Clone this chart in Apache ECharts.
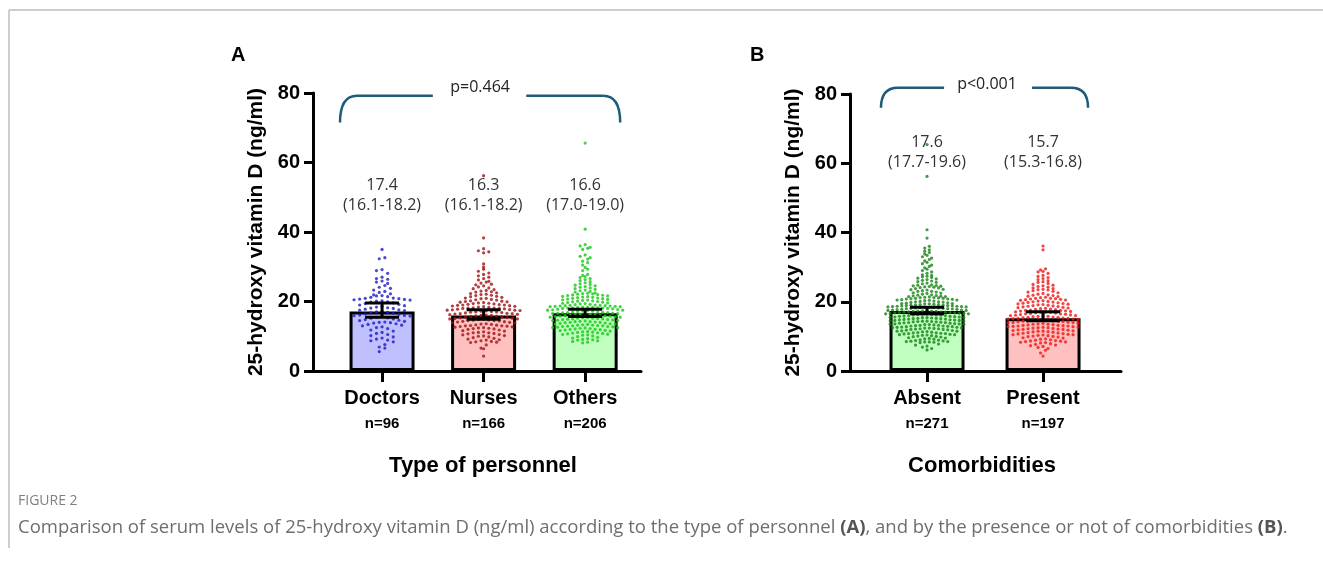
<!DOCTYPE html>
<html>
<head>
<meta charset="utf-8">
<script src="https://cdn.jsdelivr.net/npm/echarts@6/dist/echarts.min.js"></script>
<style>
  html, body { margin: 0; padding: 0; background: #fff; }
  #chart { width: 1323px; height: 563px; }
</style>
</head>
<body>
<div id="chart"></div>
<script>
// ---- data ----
const categoriesA = ['Doctors', 'Nurses', 'Others'];
const countsA = ['n=96', 'n=166', 'n=206'];
const meansA = [17.1, 16.0, 16.6];
const ciLowA = [15.5, 14.9, 15.7];
const ciHighA = [19.6, 17.6, 17.8];
const medianTextA = ['17.4', '16.3', '16.6'];
const rangeTextA = ['(16.1-18.2)', '(16.1-18.2)', '(17.0-19.0)'];
const pTextA = 'p=0.464';

const categoriesB = ['Absent', 'Present'];
const countsB = ['n=271', 'n=197'];
const meansB = [17.3, 15.2];
const ciLowB = [16.5, 14.5];
const ciHighB = [18.4, 17.1];
const medianTextB = ['17.6', '15.7'];
const rangeTextB = ['(17.7-19.6)', '(15.3-16.8)'];
const pTextB = 'p<0.001';

const doctors = [35.0, 32.6, 32.3, 29.2, 28.9, 28.1, 27.0, 26.6, 26.4, 25.9, 25.6, 25.2,
  24.6, 24.1, 23.8, 23.3, 22.9, 22.6, 22.2,
  21.9, 21.7, 21.6, 21.4, 21.2, 21.0, 20.9, 20.8, 20.7, 20.6, 20.5, 20.4, 20.2, 20.1,
  19.9, 19.8, 19.6, 19.4, 19.2, 19.0, 18.8, 18.6, 18.4, 18.2, 18.1, 18.0,
  17.8, 17.6, 17.5, 17.4, 17.2, 17.0, 16.9, 16.7, 16.6, 16.4, 16.3, 16.1, 16.0,
  15.9, 15.8, 15.7, 15.5, 15.3, 15.2, 15.0, 14.8, 14.6, 14.5, 14.3, 14.1, 14.0,
  13.9, 13.8, 13.6, 13.4, 13.2, 13.0, 12.7, 12.5, 12.2,
  11.8, 11.5, 11.1, 10.8, 10.5, 10.2,
  9.8, 9.5, 9.2, 8.9, 8.7, 8.4,
  7.6, 6.9, 6.6, 5.6];

const nurses = [56.2, 38.3, 35.2, 34.6, 34.3, 34.0, 30.8, 29.9, 29.3,
  28.7, 28.2, 27.8, 27.4, 27.0, 26.6, 26.2,
  25.8, 25.6, 25.3, 25.0, 24.8, 24.5, 24.2, 23.9, 23.7, 23.4, 23.2, 23.0,
  22.8, 22.7, 22.5, 22.3, 22.1, 22.0, 21.8, 21.7, 21.5, 21.4, 21.2, 21.0, 20.9, 20.8, 20.6, 20.5, 20.4, 20.2, 20.1, 20.0,
  19.9, 19.8, 19.7, 19.6, 19.5, 19.4, 19.3, 19.2, 19.1, 19.0, 18.9, 18.8, 18.7, 18.6, 18.5, 18.4, 18.3, 18.2, 18.1, 18.0, 18.0, 18.1,
  17.9, 17.8, 17.7, 17.6, 17.5, 17.4, 17.3, 17.2, 17.1, 17.0, 16.9, 16.8, 16.7, 16.6, 16.5, 16.4, 16.3, 16.2, 16.1, 16.0, 16.0, 16.5, 17.0, 17.5,
  15.9, 15.8, 15.7, 15.6, 15.5, 15.4, 15.3, 15.2, 15.1, 15.0, 14.9, 14.8, 14.7, 14.6, 14.5, 14.4, 14.3, 14.2, 14.1, 14.0, 14.5, 15.0,
  13.9, 13.8, 13.6, 13.5, 13.4, 13.3, 13.2, 13.1, 13.0, 12.9, 12.8, 12.7, 12.6, 12.5, 12.4, 12.3, 12.2, 12.1, 12.0, 13.0,
  11.8, 11.6, 11.5, 11.3, 11.1, 11.0, 10.8, 10.7, 10.5, 10.4, 10.2, 10.1, 10.0, 11.0,
  9.8, 9.6, 9.4, 9.2, 9.0, 8.9, 8.7, 8.5, 8.4, 8.3, 8.2,
  7.5, 6.6, 6.4, 4.3, 19.0];

const others = [65.6, 40.8, 36.4, 36.0, 35.6, 35.3, 35.0,
  33.4, 33.0, 32.6, 32.2, 31.6, 31.2, 30.5, 29.8, 29.3, 28.9,
  27.8, 27.5, 27.2, 26.9, 26.6, 26.3, 26.0, 25.7, 25.4, 25.1,
  24.9, 24.7, 24.5, 24.3, 24.1, 23.9, 23.7, 23.5, 23.3, 23.1, 22.9, 22.7, 22.5, 22.4, 22.3, 22.2, 22.1, 22.0,
  21.9, 21.8, 21.7, 21.6, 21.5, 21.4, 21.3, 21.2, 21.1, 21.0, 20.9, 20.8, 20.7, 20.6, 20.5, 20.4, 20.3, 20.2, 20.1, 20.0,
  19.9, 19.8, 19.7, 19.6, 19.5, 19.4, 19.3, 19.2, 19.1, 19.0, 18.9, 18.8, 18.7, 18.6, 18.5, 18.4, 18.3, 18.2, 18.1, 18.0,
  18.5, 18.6, 18.7, 18.8, 18.9, 18.4, 18.3, 18.2, 18.1, 18.0,
  17.9, 17.8, 17.7, 17.6, 17.5, 17.4, 17.3, 17.2, 17.1, 17.0, 16.9, 16.8, 16.7, 16.6, 16.5, 16.4, 16.3, 16.2, 16.1, 16.0,
  17.5, 17.0, 16.5, 16.0, 16.2, 16.4, 16.6, 16.8,
  15.9, 15.8, 15.7, 15.6, 15.5, 15.4, 15.3, 15.2, 15.1, 15.0, 14.9, 14.8, 14.7, 14.6, 14.5, 14.4, 14.3, 14.2, 14.1, 14.0,
  15.5, 15.0, 14.5, 14.0, 15.2, 14.8, 14.2, 15.8,
  13.9, 13.8, 13.7, 13.6, 13.5, 13.4, 13.3, 13.2, 13.1, 13.0, 12.9, 12.8, 12.7, 12.6, 12.5, 12.4, 12.3, 12.2, 12.1, 12.0,
  13.5, 13.0, 12.5, 12.0, 13.2, 12.8,
  11.9, 11.7, 11.5, 11.3, 11.1, 10.9, 10.7, 10.5, 10.3, 10.1, 11.8, 11.6, 11.4, 11.2, 11.0, 10.8, 10.6, 10.4,
  9.9, 9.7, 9.5, 9.3, 9.1, 8.9, 8.7, 8.5, 8.3, 8.1, 9.0];

const absent = [65.4, 56.2, 40.8, 38.4,
  36.0, 35.5, 35.0, 34.6, 34.2, 33.8, 33.4, 33.0, 32.6, 32.2,
  31.8, 31.4, 31.0, 30.6, 30.2, 29.8, 29.4, 29.0, 28.6, 28.2,
  27.8, 27.6, 27.4, 27.2, 27.0, 26.8, 26.6, 26.4, 26.2, 26.0, 25.8, 25.6, 25.4, 25.2,
  24.9, 24.8, 24.7, 24.6, 24.5, 24.4, 24.3, 24.2, 24.1, 24.0, 23.8, 23.6, 23.4, 23.2, 23.0, 22.8, 22.6, 22.4, 22.2, 22.0, 23.5, 23.0, 22.5,
  21.9, 21.8, 21.7, 21.6, 21.5, 21.4, 21.3, 21.2, 21.1, 21.0, 20.9, 20.8, 20.7, 20.6, 20.5, 20.4, 20.3, 20.2, 20.1, 20.0, 21.5, 21.0, 20.5, 20.0, 21.2, 20.8,
  19.9, 19.8, 19.7, 19.6, 19.5, 19.4, 19.3, 19.2, 19.1, 19.0, 18.9, 18.8, 18.7, 18.6, 18.5, 18.4, 18.3, 18.2, 18.1, 18.0,
  19.5, 19.0, 18.5, 18.0, 19.2, 18.8, 18.4, 18.2, 18.6, 18.3, 18.7, 18.9, 19.4, 18.1,
  17.9, 17.8, 17.7, 17.6, 17.5, 17.4, 17.3, 17.2, 17.1, 17.0, 16.9, 16.8, 16.7, 16.6, 16.5, 16.4, 16.3, 16.2, 16.1, 16.0,
  17.5, 17.0, 16.5, 16.0, 17.2, 16.8, 16.4, 16.2, 17.8, 17.6, 17.4, 16.6, 16.3, 17.1, 16.9, 17.3,
  15.9, 15.8, 15.7, 15.6, 15.5, 15.4, 15.3, 15.2, 15.1, 15.0, 14.9, 14.8, 14.7, 14.6, 14.5, 14.4, 14.3, 14.2, 14.1, 14.0,
  15.5, 15.0, 14.5, 14.0, 15.2, 14.8, 14.4, 14.2, 15.8, 15.6, 15.4, 14.6, 14.3, 15.1,
  13.9, 13.8, 13.7, 13.6, 13.5, 13.4, 13.3, 13.2, 13.1, 13.0, 12.9, 12.8, 12.7, 12.6, 12.5, 12.4, 12.3, 12.2, 12.1, 12.0,
  13.5, 13.0, 12.5, 12.0, 13.2, 12.8, 12.4, 12.2, 13.8, 13.6, 13.4, 12.6,
  11.9, 11.8, 11.7, 11.6, 11.5, 11.4, 11.3, 11.2, 11.1, 11.0, 10.9, 10.8, 10.7, 10.6, 10.5, 10.4, 10.3, 10.2, 10.1, 10.0, 11.5, 11.0, 10.5, 10.8,
  9.9, 9.8, 9.6, 9.5, 9.3, 9.2, 9.0, 8.9, 8.8, 8.7, 8.6, 8.5, 8.5, 8.4, 8.4, 8.3, 8.2, 9.4,
  7.8, 7.5, 7.2, 6.9, 6.5, 6.1];

const present = [36.1, 35.0, 29.5, 29.2, 28.8, 28.6, 28.2,
  27.6, 27.3, 27.0, 26.7, 26.4, 26.1, 25.8, 25.6, 25.3, 25.0,
  24.8, 24.6, 24.4, 24.2, 24.0, 23.8, 23.6, 23.4, 23.2, 23.0, 22.8, 22.6, 22.4, 22.2, 22.0, 23.5,
  21.9, 21.8, 21.6, 21.5, 21.3, 21.2, 21.0, 20.9, 20.8, 20.7, 20.6, 20.5, 20.4, 20.3, 20.2, 20.1, 20.0, 21.0,
  19.9, 19.8, 19.7, 19.6, 19.5, 19.4, 19.3, 19.2, 19.1, 19.0, 18.9, 18.8, 18.7, 18.6, 18.5, 18.4, 18.3, 18.2, 18.1, 18.0,
  17.9, 17.8, 17.7, 17.6, 17.5, 17.4, 17.3, 17.2, 17.1, 17.0, 16.9, 16.8, 16.7, 16.6, 16.5, 16.4, 16.3, 16.2, 16.1, 16.0, 17.5, 17.0, 16.5, 16.0,
  15.9, 15.8, 15.7, 15.6, 15.5, 15.4, 15.3, 15.2, 15.1, 15.0, 14.9, 14.8, 14.7, 14.6, 14.5, 14.4, 14.3, 14.2, 14.1, 14.0, 15.5, 15.0, 14.5, 14.0, 15.2, 14.8, 14.4, 15.8,
  13.9, 13.8, 13.7, 13.6, 13.5, 13.4, 13.3, 13.2, 13.1, 13.0, 12.9, 12.8, 12.7, 12.6, 12.5, 12.4, 12.3, 12.2, 12.1, 12.0, 13.5, 13.0, 12.5, 12.0, 13.2, 12.8,
  11.9, 11.8, 11.7, 11.6, 11.5, 11.4, 11.3, 11.2, 11.1, 11.0, 10.9, 10.8, 10.7, 10.6, 10.5, 10.4, 10.3, 10.2, 10.1, 10.0, 11.5, 10.5,
  9.9, 9.8, 9.6, 9.5, 9.3, 9.2, 9.0, 8.9, 8.8, 8.7, 8.6, 8.5, 8.4, 8.3, 8.2, 8.1,
  7.9, 7.7, 7.5, 7.3, 7.1, 6.8, 6.5, 6.0, 5.2, 4.3];

// ---- styling ----
const fillsA = ['#c0c0ff', '#ffc0c0', '#c0ffc0'];
const dotsA = ['#1a1ac8', '#a01010', '#14c814'];
const fillsB = ['#c0ffc0', '#ffc0c0'];
const dotsB = ['#148214', '#f01414'];
const bracketColor = '#1f5a78';
const FONT = '"Liberation Sans", Arial, sans-serif';
const NOTE_FONT = '"Open Sans", "Noto Sans", sans-serif';
const pxPerUnitA = 101.5;
const pxPerUnitB = 116;

// GraphPad-like swarm: group values into rows, fill each row from the centre outwards
function swarm(values, center, rowH, step) {
  const rows = {};
  values.forEach(v => {
    const r = Math.round(v / rowH);
    (rows[r] = rows[r] || []).push(v);
  });
  const pts = [];
  Object.keys(rows).forEach(k => {
    const list = rows[k].slice().sort((a, b) => b - a);
    const n = list.length;
    list.forEach((v, j) => {
      // slot order: centre, right, left, right, left ...
      const side = j % 2 === 0 ? 1 : -1;
      const slot = n % 2 === 1 ? side * Math.ceil(j / 2) : side * (Math.floor(j / 2) + 0.5);
      pts.push([center + slot * step, v]);
    });
  });
  return pts;
}

function errorBars(params, api) {
  const x = api.value(0);
  const top = api.coord([x, api.value(2)]);
  const bot = api.coord([x, api.value(1)]);
  const half = 17;
  const st = { stroke: '#000', lineWidth: 3 };
  return {
    type: 'group',
    children: [
      { type: 'line', shape: { x1: top[0], y1: top[1], x2: bot[0], y2: bot[1] }, style: st },
      { type: 'line', shape: { x1: top[0] - half, y1: top[1], x2: top[0] + half, y2: top[1] }, style: st },
      { type: 'line', shape: { x1: bot[0] - half, y1: bot[1], x2: bot[0] + half, y2: bot[1] }, style: st }
    ]
  };
}

function notes(mains, ranges) {
  return function (params, api) {
    const p = api.coord([api.value(0), api.value(1)]);
    const i = params.dataIndex;
    return {
      type: 'text', x: p[0], y: p[1],
      style: {
        text: mains[i] + '\n' + ranges[i], fill: '#333', fontSize: 16, lineHeight: 20,
        fontFamily: NOTE_FONT, align: 'center', verticalAlign: 'middle'
      }
    };
  };
}

function bracket(label) {
  return function (params, api) {
    const L = api.coord([api.value(0), api.value(3)]);
    const LT = api.coord([api.value(0), api.value(2)]);
    const RT = api.coord([api.value(1), api.value(2)]);
    const R = api.coord([api.value(1), api.value(3)]);
    const G0 = api.coord([api.value(4), api.value(2)]);
    const G1 = api.coord([api.value(5), api.value(2)]);
    const T = api.coord([api.value(6), api.value(7)]);
    const r = 17;
    const st = { stroke: bracketColor, lineWidth: 2.5, fill: null };
    return {
      type: 'group',
      children: [
        { type: 'bezierCurve', shape: { x1: L[0], y1: L[1], cpx1: LT[0], cpy1: LT[1], x2: LT[0] + r, y2: LT[1] }, style: st },
        { type: 'line', shape: { x1: LT[0] + r, y1: LT[1], x2: G0[0], y2: G0[1] }, style: st },
        { type: 'line', shape: { x1: G1[0], y1: G1[1], x2: RT[0] - r, y2: RT[1] }, style: st },
        { type: 'bezierCurve', shape: { x1: RT[0] - r, y1: RT[1], cpx1: RT[0], cpy1: RT[1], x2: R[0], y2: R[1] }, style: st },
        { type: 'text', x: T[0], y: T[1], style: { text: label, fill: '#222', fontSize: 16, fontFamily: NOTE_FONT, align: 'center', verticalAlign: 'middle' } }
      ]
    };
  };
}

function xAxisFor(gridIndex, min, max, cats, counts) {
  const idx = cats.map((c, i) => i);
  return {
    gridIndex: gridIndex, type: 'value', min: min, max: max,
    splitLine: { show: false },
    axisLine: { onZero: false, lineStyle: { color: '#000', width: 3 } },
    axisTick: { customValues: idx, length: 11, lineStyle: { color: '#000', width: 3 } },
    axisLabel: {
      customValues: idx, margin: 14,
      formatter: v => '{c|' + cats[Math.round(v)] + '}\n{n|' + counts[Math.round(v)] + '}',
      rich: {
        c: { fontFamily: FONT, fontWeight: 'bold', fontSize: 20, color: '#000', lineHeight: 27 },
        n: { fontFamily: FONT, fontWeight: 'bold', fontSize: 15, color: '#000', lineHeight: 24 }
      }
    }
  };
}

function yAxisFor(gridIndex) {
  return {
    gridIndex: gridIndex, type: 'value', min: 0, max: 80, interval: 20,
    name: '25-hydroxy vitamin D (ng/ml)', nameLocation: 'middle', nameGap: 46,
    nameTextStyle: { fontFamily: FONT, fontWeight: 'bold', fontSize: 21, color: '#000' },
    splitLine: { show: false },
    axisLine: { show: true, onZero: false, lineStyle: { color: '#000', width: 3 } },
    axisTick: { show: true, length: 9, lineStyle: { color: '#000', width: 3 } },
    axisLabel: { margin: 13, fontFamily: FONT, fontWeight: 'bold', fontSize: 20, color: '#000' }
  };
}

const chart = echarts.init(document.getElementById('chart'));

const rowSpecA = [[1.5, 5.6], [1.2, 5.2], [1.0, 5.0]];
const rowSpecB = [[1.0, 4.6], [1.1, 5.0]];

const seriesA = [
  {
    type: 'bar', xAxisIndex: 0, yAxisIndex: 0, barWidth: 65, z: 1,
    itemStyle: { borderColor: '#000', borderWidth: 3 },
    data: meansA.map((m, i) => ({ value: [i, m], itemStyle: { color: fillsA[i] } }))
  },
  ...[doctors, nurses, others].map((vals, i) => ({
    type: 'scatter', xAxisIndex: 0, yAxisIndex: 0, z: 2, symbol: 'circle', symbolSize: 3.2,
    itemStyle: { color: dotsA[i] }, data: swarm(vals, i, rowSpecA[i][0], rowSpecA[i][1] / pxPerUnitA)
  })),
  {
    type: 'custom', xAxisIndex: 0, yAxisIndex: 0, z: 3, renderItem: errorBars,
    data: meansA.map((m, i) => [i, ciLowA[i], ciHighA[i]])
  },
  {
    type: 'custom', xAxisIndex: 0, yAxisIndex: 0, z: 4, renderItem: notes(medianTextA, rangeTextA),
    data: meansA.map((m, i) => [i, 50.4])
  },
  {
    type: 'custom', xAxisIndex: 0, yAxisIndex: 0, z: 4, clip: false, renderItem: bracket(pTextA),
    data: [[-0.414, 2.345, 79.2, 71.5, 0.50, 1.42, 0.966, 81.5]]
  }
];

const seriesB = [
  {
    type: 'bar', xAxisIndex: 1, yAxisIndex: 1, barWidth: 75, z: 1,
    itemStyle: { borderColor: '#000', borderWidth: 3 },
    data: meansB.map((m, i) => ({ value: [i, m], itemStyle: { color: fillsB[i] } }))
  },
  ...[absent, present].map((vals, i) => ({
    type: 'scatter', xAxisIndex: 1, yAxisIndex: 1, z: 2, symbol: 'circle', symbolSize: 3.2,
    itemStyle: { color: dotsB[i] }, data: swarm(vals, i, rowSpecB[i][0], rowSpecB[i][1] / pxPerUnitB)
  })),
  {
    type: 'custom', xAxisIndex: 1, yAxisIndex: 1, z: 3, renderItem: errorBars,
    data: meansB.map((m, i) => [i, ciLowB[i], ciHighB[i]])
  },
  {
    type: 'custom', xAxisIndex: 1, yAxisIndex: 1, z: 4, renderItem: notes(medianTextB, rangeTextB),
    data: meansB.map((m, i) => [i, 63.0])
  },
  {
    type: 'custom', xAxisIndex: 1, yAxisIndex: 1, z: 4, clip: false, renderItem: bracket(pTextB),
    data: [[-0.397, 1.388, 81.8, 76.0, 0.147, 0.905, 0.517, 82.7]]
  }
];

chart.setOption({
  animation: false,
  backgroundColor: '#fff',
  grid: [
    { left: 313, top: 93, width: 328, height: 278 },
    { left: 850, top: 94, width: 271, height: 277 }
  ],
  xAxis: [
    xAxisFor(0, -0.68, 2.55, categoriesA, countsA),
    xAxisFor(1, -0.664, 1.672, categoriesB, countsB)
  ],
  yAxis: [yAxisFor(0), yAxisFor(1)],
  series: seriesA.concat(seriesB),
  graphic: [
    { type: 'line', shape: { x1: 9, y1: 10, x2: 1323, y2: 10 }, style: { stroke: '#bdbdbd', lineWidth: 1.5 } },
    { type: 'line', shape: { x1: 9, y1: 10, x2: 9, y2: 548 }, style: { stroke: '#bdbdbd', lineWidth: 1.5 } },
    { type: 'text', x: 231, y: 55, style: { text: 'A', fontFamily: FONT, fontWeight: 'bold', fontSize: 20, fill: '#000', verticalAlign: 'middle' } },
    { type: 'text', x: 750, y: 55, style: { text: 'B', fontFamily: FONT, fontWeight: 'bold', fontSize: 20, fill: '#000', verticalAlign: 'middle' } },
    { type: 'text', x: 483, y: 466, style: { text: 'Type of personnel', fontFamily: FONT, fontWeight: 'bold', fontSize: 22, fill: '#000', align: 'center', verticalAlign: 'middle' } },
    { type: 'text', x: 982, y: 466, style: { text: 'Comorbidities', fontFamily: FONT, fontWeight: 'bold', fontSize: 22, fill: '#000', align: 'center', verticalAlign: 'middle' } },
    { type: 'text', x: 18, y: 501, style: { text: 'FIGURE 2', fontFamily: NOTE_FONT, fontSize: 14, fill: '#808080', verticalAlign: 'middle' } },
    {
      type: 'text', x: 18, y: 528,
      style: {
        text: '{n|Comparison of serum levels of 25-hydroxy vitamin D (ng/ml) according to the type of personnel }{b|(A)}{n|, and by the presence or not of comorbidities }{b|(B)}{n|.}',
        verticalAlign: 'middle',
        rich: {
          n: { fontFamily: NOTE_FONT, fontSize: 18.5, fill: '#6e6e6e' },
          b: { fontFamily: NOTE_FONT, fontSize: 18.5, fontWeight: 'bold', fill: '#555' }
        }
      }
    }
  ]
});
</script>
</body>
</html>
